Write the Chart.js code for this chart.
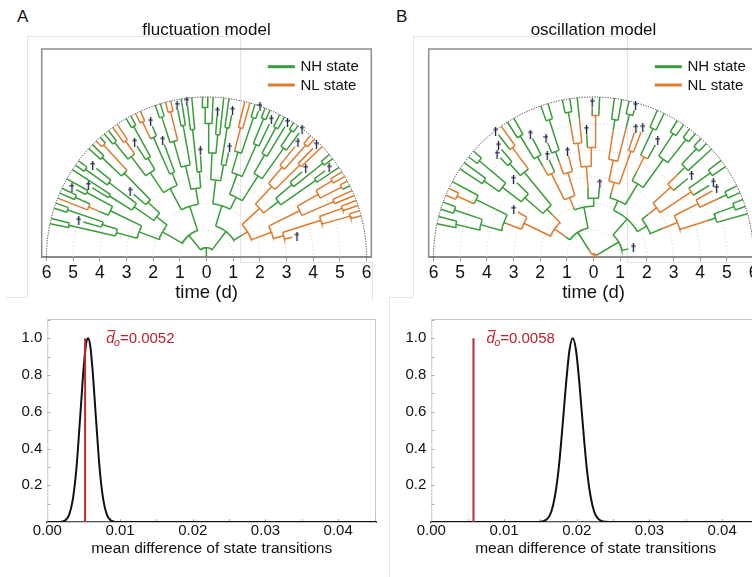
<!DOCTYPE html>
<html>
<head>
<meta charset="utf-8">
<script src="https://cdn.jsdelivr.net/npm/chart.js@4.4.1/dist/chart.umd.min.js"></script>
<style>
  html, body { margin: 0; padding: 0; background: #fff; }
  #page { position: relative; width: 752px; height: 577px; overflow: hidden; font-family: "Liberation Sans", Arial, sans-serif; }
  .box { position: absolute; }
  .tag { position: absolute; font-size: 17px; line-height: 1; color: #111; }
  .rule { position: absolute; background: #e4e4e4; }
</style>
</head>
<body>
<div id="page">
  <!-- faint panel edges of the original figure -->
  <div class="rule" style="left:27px;top:36px;width:1px;height:261px"></div>
  <div class="rule" style="left:27px;top:36px;width:213px;height:1px"></div>
  <div class="rule" style="left:240px;top:36px;width:1px;height:226px"></div>
  <div class="rule" style="left:240px;top:262px;width:132px;height:1px"></div>
  <div class="rule" style="left:372px;top:262px;width:1px;height:38px"></div>
  <div class="rule" style="left:6px;top:297px;width:21px;height:1px"></div>
  <div class="rule" style="left:413px;top:36px;width:1px;height:261px"></div>
  <div class="rule" style="left:413px;top:36px;width:214px;height:1px"></div>
  <div class="rule" style="left:627px;top:36px;width:1px;height:226px"></div>
  <div class="rule" style="left:627px;top:262px;width:125px;height:1px"></div>
  <div class="rule" style="left:389px;top:297px;width:24px;height:1px"></div>
  <div class="rule" style="left:389px;top:297px;width:1px;height:280px"></div>

  <div class="tag" style="left:17px;top:8px">A</div>
  <div class="tag" style="left:396px;top:8px">B</div>

  <div class="box" style="left:0;top:0;width:413px;height:308px"><canvas id="treeA"></canvas></div>
  <div class="box" style="left:387px;top:0;width:413px;height:308px"><canvas id="treeB"></canvas></div>
  <div class="box" style="left:0;top:300px;width:380px;height:258px"><canvas id="distA"></canvas></div>
  <div class="box" style="left:384px;top:300px;width:380px;height:258px"><canvas id="distB"></canvas></div>
</div>

<script>
// ---------- data ----------
const timeTicks = [-6, -5, -4, -3, -2, -1, 0, 1, 2, 3, 4, 5, 6];
const gridRadii = [1, 2, 3, 4, 5, 6];
const stateNames = ['NH state', 'NL state'];
const stateColors = ['#3a9c3a', '#dd7c30'];

// lineage tree nodes: [time the branch ends (d), state (0 = NH, 1 = NL), daughters, time the state switched]
// a branch with no daughters that ends before day 6 is a cell death (†)
const treeA =
[0.35,0,[
  [1.05,0,[
    [1.9,0,[
      [2.7,0,[
        [3.5,0,[
          [5.3,0,[[6,0],[6,0]]],
          [4.1,0,[[4.8,0],[5.5,0,[[6,0],[6,0]]]]]
        ]],
        [4.0,0,[
          [4.8,1,[[6,1],[5.4,0,[[6,0],[6,0]]]],4.4],
          [5.1,0,[[5.5,0],[6,0]]]
        ]]
      ]],
      [2.4,0,[
        [3.3,0,[
          [4.3,0,[[5.0,0],[6,0]]],
          [4.6,0,[[5.6,0,[[6,0],[6,0]]],[5.3,0]]]
        ]],
        [3.0,0,[
          [3.6,0],
          [4.4,0,[[5.4,0,[[6,0],[6,0]]],[5.7,1,[[6,1],[6,0]]]]]
        ]]
      ]]
    ]],
    [2.0,0,[
      [2.9,0,[
        [3.8,0,[
          [4.7,0,[[5.5,0,[[6,0],[6,0]]],[5.3,1,[[6,1],[6,1]]]]],
          [4.3,0,[[4.9,0],[5.6,0,[[6,0],[6,0]]]]]
        ]],
        [3.4,0,[
          [4.9,0,[[5.6,1,[[6,1],[6,1]]],[5.3,0]]],
          [4.5,0]
        ]]
      ]],
      [2.6,0,[
        [3.5,0,[
          [4.5,0,[[5.5,0,[[6,0],[6,0]]],[5.6,1,[[6,1],[6,1]]]]],
          [5.0,0,[[5.6,0],[6,0]]]
        ]],
        [3.2,0,[
          [4.8,0,[[5.7,0],[6,0]]],
          [3.8,0]
        ]]
      ]]
    ]]
  ]],
  [1.2,0,[
    [2.0,0,[
      [2.9,0,[
        [3.9,0,[
          [5.0,0,[[5.6,0,[[6,0],[6,0]]],[6,0]]],
          [4.6,0,[[5.3,0],[6,0]]]
        ]],
        [3.5,0,[
          [4.9,0,[[6,0],[5.4,0]]],
          [4.0,0]
        ]]
      ]],
      [2.5,0,[
        [3.3,0,[
          [4.1,0,[[5.0,1,[[6,1],[6,1]]],[5.5,0,[[6,0],[5.8,0]]]]],
          [4.6,0,[[5.6,0,[[6,0],[6,0]]],[5.5,0]]]
        ]],
        [3.6,0,[
          [4.4,0,[[5.5,0,[[6,0],[6,0]]],[5.7,0]]],
          [5.0,0,[[5.7,0,[[6,0],[6,0]]],[5.8,0]]]
        ]]
      ]]
    ]],
    [1.8,1,[
      [2.7,1,[
        [3.6,1,[
          [4.4,1,[[5.3,1],[5.6,1,[[6,1],[6,1]]]]],
          [4.9,1,[[5.7,1],[6,1]]]
        ]],
        [3.4,0,[
          [4.2,0,[[4.8,0],[5.6,0,[[6,0],[6,0]]]]],
          [5.0,0,[[5.5,0],[6,0]]]
        ],3.0]
      ]],
      [2.6,1,[
        [3.9,1,[
          [4.8,1,[[5.5,1,[[6,1],[6,1]]],[5.7,1,[[6,1],[6,0]]]]],
          [5.2,1,[[6,1],[6,1]]]
        ]],
        [3.0,1,[
          [4.5,1,[[5.4,1,[[6,1],[6,1]]],[5.6,1,[[6,1],[6,1]]]]],
          [3.3,1]
        ]]
      ]]
    ],1.55]
  ]]
]];

const treeB =
[0.12,1,[
  [1.1,0,[
    [1.8,1,[
      [2.9,1,[
        [3.6,0,[
          [4.4,0,[[5.3,0,[[6,0],[6,0]]],[5.5,0,[[6,0],[6,0]]]]],
          [4.9,0,[[5.6,1,[[6,1],[6,1]]],[6,0]]]
        ],3.5],
        [3.3,1]
      ]],
      [2.5,0,[
        [3.4,0,[
          [4.3,0,[[5.0,0,[[6,0],[6,0]]],[5.6,0,[[6,0],[6,0]]]]],
          [4.0,0]
        ]],
        [4.1,0,[
          [4.7,0,[[5.1,0],[5.3,0]]],
          [5.1,1,[[5.8,0],[6,1]]]
        ]]
      ],2.2]
    ],1.3],
    [1.9,0,[
      [2.4,1,[
        [3.5,1,[
          [4.3,0,[[5.3,0,[[6,0],[6,0]]],[5.0,0]],3.9],
          [4.0,0]
        ]],
        [3.3,1,[
          [4.2,0,[[4.6,0],[5.4,0,[[6,0],[6,0]]]],3.8],
          [3.9,1]
        ]]
      ],2.0],
      [2.2,0,[
        [3.4,1,[
          [4.3,1,[[5.5,0,[[6,0],[6,0]],5.0],[6,0,null,5.2]]],
          [4.1,1,[[4.6,0],[5.3,1,[[5.6,0],[6,0]]]]]
        ],2.6],
        [2.6,0]
      ]]
    ]]
  ],0.3],
  [1.1,0,[
    [1.9,0,[
      [2.3,0,[
        [2.9,1,[
          [3.7,1,[[5.2,0,[[6,0],[6,0]],4.8],[5.5,0,[[6,0],[5.7,0]],5.0]]],
          [4.2,1,[[4.9,1],[5.0,1]]]
        ],2.5],
        [3.2,0,[
          [4.2,1,[[5.3,0,[[6,0],[6,0]]],[4.8,0]],3.6],
          [4.5,0,[[5.5,0,[[6,0],[6,0]]],[5.6,0,[[6,0],[6,0]]]]]
        ]]
      ]],
      [2.3,0,[
        [3.0,1,[
          [3.9,1,[[4.8,0,[[5.6,0,[[6,0],[6,0]]],[6,0]],4.4],[4.6,0]]],
          [4.4,1,[[5.4,0,[[6,0],[6,0]]],[5.1,0]]]
        ],2.6],
        [3.4,1,[
          [4.4,1,[[5.1,1],[5.5,0,[[6,0],[6,0]],5.2]]],
          [4.8,0,[[5.6,0,[[6,0],[6,0]]],[6,0]],4.5]
        ],2.8]
      ]]
    ]],
    [1.35,0]
  ]]
]];

// null distributions of the mean difference of state transitions
const nullAx = [0, 0.0015, 0.002, 0.0025, 0.003, 0.0035, 0.004, 0.0045, 0.005, 0.0053, 0.0056, 0.0059, 0.0062, 0.0067, 0.0072, 0.0077, 0.0082, 0.0087, 0.0092, 0.0097, 0.0452];
const nullAy = [0, 0, 0.002, 0.01, 0.039, 0.12, 0.29, 0.56, 0.84, 0.96, 1.0, 0.96, 0.84, 0.56, 0.29, 0.12, 0.039, 0.01, 0.002, 0, 0];
const nullBx = [0, 0.014, 0.015, 0.0155, 0.016, 0.0165, 0.017, 0.0175, 0.018, 0.0185, 0.019, 0.01945, 0.0199, 0.0204, 0.0209, 0.0214, 0.0219, 0.0224, 0.0229, 0.0234, 0.024, 0.025, 0.0452];
const nullBy = [0, 0, 0.0014, 0.006, 0.02, 0.056, 0.14, 0.285, 0.5, 0.74, 0.935, 1.0, 0.935, 0.74, 0.5, 0.285, 0.14, 0.056, 0.02, 0.006, 0.0014, 0, 0];
const observedA = 0.0052;
const observedB = 0.0058;
const diffTicks = [0, 0.01, 0.02, 0.03, 0.04];
const densTicks = [0.2, 0.4, 0.6, 0.8, 1.0];

// ---------- drawing ----------
const FONT = '"Liberation Sans", Arial, sans-serif';
Chart.defaults.font.family = FONT;
Chart.defaults.color = '#111';

// leaves evenly spread over the half circle, each division in the middle of its daughters
function layoutTree(root, aFrom, aTo) {
  const leaves = [];
  (function collect(n) {
    if (!n[2] || !n[2].length) leaves.push(n); else n[2].forEach(collect);
  })(root);
  const ang = new Map();
  const step = (aFrom - aTo) / (leaves.length - 1);
  leaves.forEach((n, i) => ang.set(n, aFrom - i * step));
  (function place(n) {
    if (ang.has(n)) return ang.get(n);
    const as = n[2].map(place);
    const a = (as[0] + as[as.length - 1]) / 2;
    ang.set(n, a);
    return a;
  })(root);
  return ang;
}

function treeSegments(root, ang) {
  const segs = [[], []];
  const dead = [];
  const gap = { x: 0, y: null };
  const pt = (t, a) => ({ x: t * Math.cos(a * Math.PI / 180), y: t * Math.sin(a * Math.PI / 180) });
  const radial = (s, t0, t1, a) => segs[s].push(pt(t0, a), pt(t1, a), gap);
  const arc = (s, t, a0, a1) => {
    const n = Math.max(2, Math.ceil(Math.abs(a0 - a1) / 1.5));
    for (let i = 0; i <= n; i++) segs[s].push(pt(t, a0 + (a1 - a0) * i / n));
    segs[s].push(gap);
  };
  function walk(n, t0, s0) {
    const [t, s, kids, sw] = n;
    const a = ang.get(n);
    if (sw !== undefined) { radial(s0, t0, sw, a); radial(s, sw, t, a); }
    else radial(s, t0, t, a);
    if (kids && kids.length) {
      arc(s, t, ang.get(kids[0]), ang.get(kids[kids.length - 1]));
      kids.forEach(k => walk(k, t, s));
    } else if (t < 6) {
      dead.push(pt(t + 0.18, a));
    }
  }
  walk(root, 0, root[1]);
  return { segs, dead };
}

function daggerImage() {
  const c = document.createElement('canvas');
  c.width = 5; c.height = 9;
  const g = c.getContext('2d');
  g.fillStyle = '#18203a';
  g.fillRect(1.9, 0, 1.3, 9);
  g.fillRect(0.2, 2.3, 4.6, 1.1);
  return c;
}

const polarGrid = {
  id: 'polarGrid',
  beforeDatasetsDraw(chart) {
    const { ctx, chartArea, scales: { x, y } } = chart;
    const cx = x.getPixelForValue(0), cy = y.getPixelForValue(0);
    ctx.save();
    ctx.strokeStyle = '#8c8c8c';
    ctx.lineWidth = 1.5;
    ctx.strokeRect(chartArea.left, chartArea.top, chartArea.right - chartArea.left, chartArea.bottom - chartArea.top);
    gridRadii.forEach((r, i) => {
      const outer = i === gridRadii.length - 1;
      ctx.beginPath();
      ctx.arc(cx, cy, x.getPixelForValue(r) - cx, Math.PI, 2 * Math.PI);
      ctx.setLineDash(outer ? [1.2, 1.4] : [1, 2.6]);
      ctx.strokeStyle = outer ? '#333' : '#c2c2c2';
      ctx.lineWidth = outer ? 1 : 0.9;
      ctx.stroke();
    });
    ctx.restore();
  }
};

const stateLegend = {
  id: 'stateLegend',
  afterDraw(chart) {
    const { ctx, chartArea: { right, top } } = chart;
    ctx.save();
    chart.data.datasets.slice(0, 2).forEach((ds, i) => {
      const y = top + 17.7 + i * 18.3;
      ctx.strokeStyle = ds.borderColor;
      ctx.lineWidth = 3;
      ctx.beginPath();
      ctx.moveTo(right - 103.5, y);
      ctx.lineTo(right - 76.5, y);
      ctx.stroke();
      ctx.fillStyle = '#111';
      ctx.font = '15px ' + FONT;
      ctx.textBaseline = 'middle';
      ctx.fillText(ds.label, right - 70.8, y + 0.5);
    });
    ctx.restore();
  }
};

function treeChart(id, title, tree) {
  const ang = layoutTree(tree, 168, 13);
  const { segs, dead } = treeSegments(tree, ang);
  const lineSet = (i) => ({
    label: stateNames[i], data: segs[i], showLine: true, pointRadius: 0,
    borderColor: stateColors[i], borderWidth: 1.5, order: 2 - i
  });
  return new Chart(document.getElementById(id), {
    type: 'scatter',
    data: {
      datasets: [
        lineSet(0), lineSet(1),
        { label: 'cell death', data: dead, pointStyle: daggerImage(), pointRadius: 4, order: 0 }
      ]
    },
    options: {
      responsive: true, maintainAspectRatio: false, animation: false, events: [],
      layout: { padding: { left: 41.7, right: 41.7, top: 0, bottom: 0 } },
      plugins: {
        legend: { display: false }, tooltip: { enabled: false },
        title: { display: true, text: title, color: '#111', font: { size: 17, weight: 'normal' }, padding: { top: 20, bottom: 8.6 } }
      },
      scales: {
        x: {
          type: 'linear', min: -6.18, max: 6.18,
          afterBuildTicks: s => { s.ticks = timeTicks.map(v => ({ value: v })); },
          ticks: { callback: v => Math.abs(v), color: '#111', font: { size: 17.5 }, padding: 2, maxRotation: 0, autoSkip: false },
          grid: { display: true, drawOnChartArea: false, drawTicks: true, tickLength: 4, color: '#999' },
          border: { display: true, color: '#8a8a8a', width: 2 },
          title: { display: true, text: 'time (d)', color: '#111', font: { size: 18.5 }, padding: { top: 0, bottom: 4 } },
          afterFit: s => { s.height = 51; }
        },
        y: { type: 'linear', min: 0, max: 7.79, display: false }
      }
    },
    plugins: [polarGrid, stateLegend]
  });
}

const boxFrame = {
  id: 'boxFrame',
  beforeDatasetsDraw(chart) {
    const { ctx, chartArea: a, scales: { x, y } } = chart;
    ctx.save();
    ctx.strokeStyle = '#c8c8c8';
    ctx.lineWidth = 1;
    ctx.strokeRect(a.left + 0.5, a.top + 0.5, a.right - a.left - 1, a.bottom - a.top);
    ctx.strokeStyle = '#b0b0b0';
    ctx.beginPath();
    for (let v = 0.1; v < 1.1; v += 0.1) {
      const py = Math.round(y.getPixelForValue(v)) + 0.5;
      ctx.moveTo(a.left, py); ctx.lineTo(a.left + 3, py);
    }
    for (let v = 0.005; v < x.max; v += 0.005) {
      const px = Math.round(x.getPixelForValue(v)) + 0.5;
      ctx.moveTo(px, a.bottom); ctx.lineTo(px, a.bottom - 3);
    }
    ctx.stroke();
    ctx.restore();
  }
};

const observedLabel = {
  id: 'observedLabel',
  afterDatasetsDraw(chart, args, opts) {
    const { ctx, scales: { x, y } } = chart;
    const px = x.getPixelForValue(opts.at);
    const base = y.getPixelForValue(1) + 5;
    ctx.save();
    ctx.fillStyle = '#b8232b';
    ctx.textBaseline = 'alphabetic';
    ctx.font = 'italic 15px ' + FONT;
    ctx.fillText('d', px, base);
    const dw = ctx.measureText('d').width;
    ctx.fillRect(px + 1.5, base - 13.2, dw - 0.5, 1.2);
    ctx.font = 'italic 10.5px ' + FONT;
    ctx.fillText('o', px + dw - 0.5, base + 2.5);
    const ow = ctx.measureText('o').width;
    ctx.font = '15px ' + FONT;
    ctx.fillText('=' + opts.value.toFixed(4), px + dw + ow - 0.5, base);
    ctx.restore();
  }
};

function distChart(id, xs, ys, observed, labelAt) {
  return new Chart(document.getElementById(id), {
    type: 'scatter',
    data: {
      datasets: [
        { label: 'null distribution', data: xs.map((v, i) => ({ x: v, y: ys[i] })), showLine: true, pointRadius: 0,
          borderColor: '#111', borderWidth: 2, cubicInterpolationMode: 'monotone', order: 1 },
        { label: 'observed', data: [{ x: observed, y: 0 }, { x: observed, y: 1 }], showLine: true, pointRadius: 0,
          borderColor: '#c0272d', borderWidth: 2, order: 0 }
      ]
    },
    options: {
      responsive: true, maintainAspectRatio: false, animation: false, events: [],
      layout: { padding: { left: 0, right: 4, top: 19, bottom: 0 } },
      plugins: {
        legend: { display: false }, tooltip: { enabled: false },
        observedLabel: { at: labelAt, value: observed }
      },
      scales: {
        x: {
          type: 'linear', min: 0, max: 0.0452,
          afterBuildTicks: s => { s.ticks = diffTicks.map(v => ({ value: v })); },
          ticks: { callback: v => v.toFixed(2), color: '#111', font: { size: 15 }, padding: 0, maxRotation: 0, autoSkip: false },
          grid: { display: false, drawTicks: false },
          border: { display: true, color: '#555', width: 2 },
          title: { display: true, text: 'mean difference of state transitions', color: '#111', font: { size: 15.5 }, padding: { top: 0, bottom: 0 } },
          afterFit: s => { s.height = 36; }
        },
        y: {
          type: 'linear', min: 0, max: 1.105,
          afterBuildTicks: s => { s.ticks = densTicks.map(v => ({ value: v })); },
          ticks: { callback: v => v.toFixed(1), color: '#111', font: { size: 15 }, padding: 5 },
          grid: { display: false, drawTicks: false },
          border: { display: false },
          afterFit: s => { s.width = 47.3; }
        }
      }
    },
    plugins: [boxFrame, observedLabel]
  });
}

treeChart('treeA', 'fluctuation model', treeA);
treeChart('treeB', 'oscillation model', treeB);
distChart('distA', nullAx, nullAy, observedA, 0.0081);
distChart('distB', nullBx, nullBy, observedB, 0.0076);
</script>
</body>
</html>
